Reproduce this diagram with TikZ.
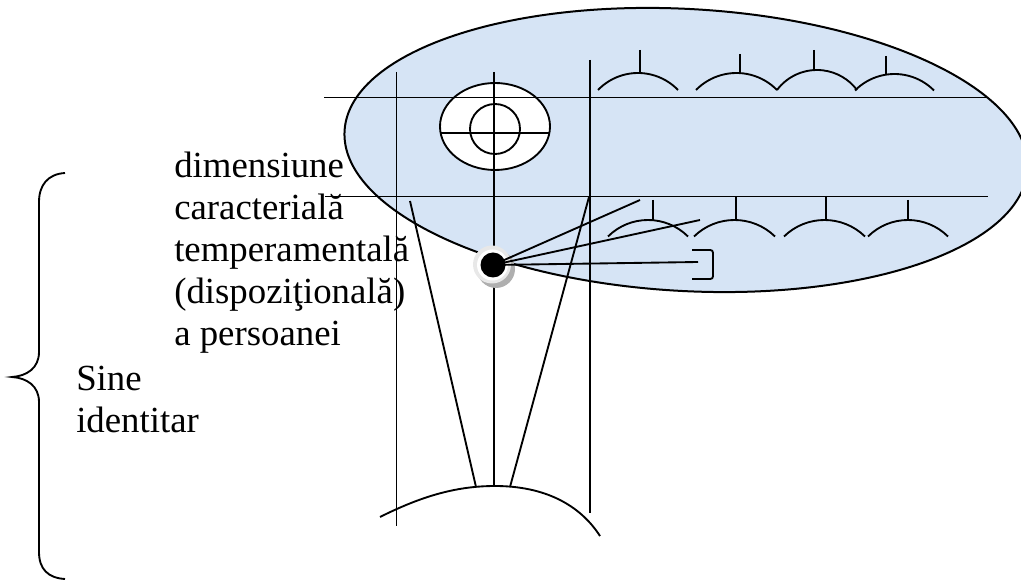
\documentclass[tikz,border=0pt]{standalone}
\usepackage{fontspec}
\setmainfont{Liberation Serif}
\definecolor{ellfill}{RGB}{214,228,245}
\definecolor{ringgray}{RGB}{232,232,232}
\definecolor{shadowgray}{RGB}{175,175,175}
\newcommand{\humparc}[4]{%
  \pgfmathsetmacro{\hw}{(#2-#1)/2}%
  \pgfmathsetmacro{\rr}{(\hw*\hw+#4*#4)/(2*#4)}%
  \pgfmathsetmacro{\ha}{asin(\hw/\rr)}%
  \draw[ln] (#1,#3) arc[start angle={270-\ha}, end angle={270+\ha}, radius=\rr];%
}
\begin{document}
\begin{tikzpicture}[x=0.75pt,y=-0.75pt,
  ln/.style={line width=1.4pt, black},
  outl/.style={line width=1.5pt, black},
  lbl/.style={anchor=base west, inner sep=0pt, font=\fontsize{27.6}{31.5}\selectfont}]
\useasboundingbox (0,0) rectangle (1021,580);
\clip (0,0) rectangle (1021,580);
% big ellipse
\draw[outl, fill=ellfill, rotate around={-3.2:(686,150)}] (686,150) ellipse [x radius=342, y radius=141];
% eye
\draw[ln, fill=white] (495,126.5) ellipse [x radius=55, y radius=43.5];
\draw[ln] (495,129) circle [radius=25];
\draw[ln] (440,133) -- (550,133);
% coordinates
\coordinate (dotc) at (493,265);
\coordinate (h1a) at (324,97.5);  \coordinate (h1b) at (987,97.5);
\coordinate (h2a) at (325,196.5); \coordinate (h2b) at (988,196.5);
\coordinate (v1a) at (396.5,72);  \coordinate (v1b) at (396.5,526);
\coordinate (v2a) at (494,72);    \coordinate (v2b) at (494,486);
\coordinate (v3a) at (590,60);    \coordinate (v3b) at (590,513);
\coordinate (s1a) at (410,201);   \coordinate (s1b) at (476,487);
\coordinate (s2a) at (589,197);   \coordinate (s2b) at (510,487);
\coordinate (f1) at (640,200);
\coordinate (f2) at (700,220);
\coordinate (f3) at (698,262);
% grid lines
\draw[ln] (h1a) -- (h1b);
\draw[ln] (h2a) -- (h2b);
\draw[ln] (v1a) -- (v1b);
\draw[ln] (v2a) -- (v2b);
\draw[ln] (v3a) -- (v3b);
\draw[ln] (s1a) -- (s1b);
\draw[ln] (s2a) -- (s2b);
% top row humps
\humparc{598}{678}{90}{17}
\draw[ln] (640,50) -- (640,73);
\humparc{696}{777}{90}{17}
\draw[ln] (740,54) -- (740,73);
\humparc{777}{857}{90}{20}
\draw[ln] (814,50) -- (814,70);
\humparc{855}{934}{90.5}{16.5}
\draw[ln] (886,56) -- (886,74);
% lower row humps
\humparc{608}{688}{236.5}{16.5}
\draw[ln] (653,200) -- (653,220.5);
\humparc{694}{775}{236.5}{16.5}
\draw[ln] (736,197) -- (736,220);
\humparc{784}{865}{236.5}{16.5}
\draw[ln] (826,196) -- (826,220);
\humparc{868}{948}{236.5}{16.5}
\draw[ln] (908,200) -- (908,220);
% bracket
\draw[ln, rounded corners=2pt] (692,250) -- (713,250) -- (713,279) -- (692,279);
% bottom arc
\draw[ln] (380,517) .. controls (420,497) and (455,486) .. (495,486) .. controls (545,486) and (580,505) .. (600,536);
% dot
\fill[shadowgray] (496,269) circle [radius=19];
\fill[ringgray] (492,264.5) circle [radius=19];
\fill[white] (492.5,265) circle [radius=15.5];
\draw[ln] (dotc) -- (f1);
\draw[ln] (dotc) -- (f2);
\draw[ln] (dotc) -- (f3);
\node[circle, fill=black, inner sep=0pt, minimum size=18.75pt] (dot) at (dotc) {};
% brace
\draw[ln] (65,173) .. controls (48,174) and (39,185) .. (39,202) -- (39,352)
  .. controls (39,368) and (27,376) .. (12,377)
  .. controls (27,378) and (39,386) .. (39,402) -- (39,552)
  .. controls (39,569) and (48,578) .. (65,579);
% texts
\node[lbl] (t1) at (174,178) {dimensiune};
\node[lbl] (t2) at (174,220) {caracterială};
\node[lbl] (t3) at (174,262) {temperamentală};
\node[lbl] (t4) at (174,304) {(dispoziţională)};
\node[lbl] (t5) at (174,346) {a persoanei};
\node[lbl] (s1) at (76,391) {Sine};
\node[lbl] (s2) at (76,433) {identitar};
\end{tikzpicture}
\end{document}
